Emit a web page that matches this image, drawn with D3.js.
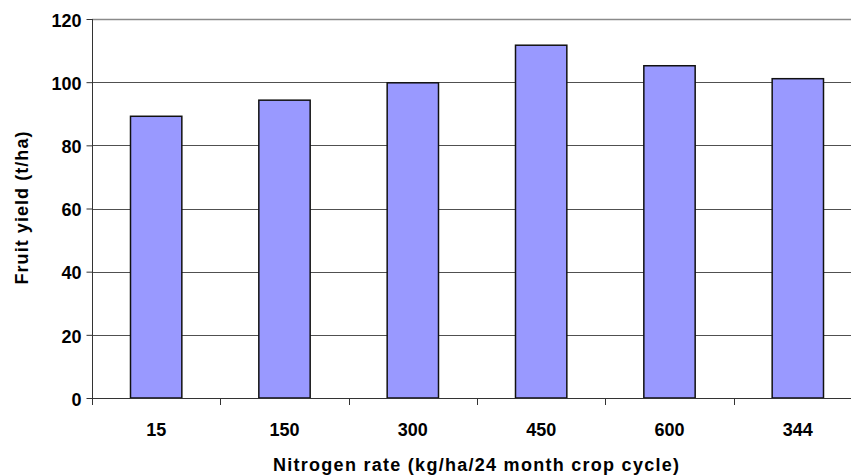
<!DOCTYPE html>
<html>
<head>
<meta charset="utf-8">
<script src="https://cdn.jsdelivr.net/npm/d3@7"></script>
<style>
  html, body { margin: 0; padding: 0; background: #fff; }
  svg { display: block; }
  text { font-family: "Liberation Sans", Arial, sans-serif; font-weight: bold; fill: #000; }
</style>
</head>
<body>
<svg id="chart" width="851" height="475"></svg>
<script>
const categories = ["15", "150", "300", "450", "600", "344"];
const yieldValues = [89.2, 94.3, 99.8, 111.7, 105.2, 101.1];
const yTicks = [0, 20, 40, 60, 80, 100, 120];
const xTitle = "Nitrogen rate (kg/ha/24 month crop cycle)";
const yTitle = "Fruit yield (t/ha)";

(function () {
const svg = d3.select("#chart");
const pLeft = 92, pRight = 862, pTop = 19, pBottom = 398;

const x = d3.scaleBand().domain(categories).range([pLeft, pRight]).paddingInner(0.6).paddingOuter(0.3);
const y = d3.scaleLinear().domain([0, 120]).range([pBottom, pTop]);

// gridlines
svg.append("g").selectAll("line").data(yTicks.filter(d => d > 0)).join("line")
  .attr("x1", pLeft).attr("x2", pRight)
  .attr("y1", d => Math.round(y(d)) + 0.5).attr("y2", d => Math.round(y(d)) + 0.5)
  .attr("stroke", d => d === 120 ? "#8a8a8a" : "#505050")
  .attr("stroke-width", d => d === 120 ? 1.5 : 1);

// bars
svg.append("g").selectAll("rect").data(categories).join("rect")
  .attr("x", d => x(d))
  .attr("y", (d, i) => y(yieldValues[i]))
  .attr("width", x.bandwidth())
  .attr("height", (d, i) => y(0) - y(yieldValues[i]))
  .attr("fill", "#9999FF")
  .attr("stroke", "#111")
  .attr("stroke-width", 1.5);

// y axis
const yAxis = d3.axisLeft(y).tickValues(yTicks).tickSize(6).tickPadding(5).tickFormat(d3.format("d"));
const gy = svg.append("g").attr("transform", `translate(${pLeft + 0.5},0)`).call(yAxis);
gy.select(".domain").remove();
gy.attr("font-family", null).attr("font-size", null);
gy.selectAll(".tick line").attr("stroke", "#333");
gy.selectAll(".tick text").style("font-size", "18px").attr("dy", "0.4em");
svg.append("line").attr("x1", pLeft + 0.5).attr("x2", pLeft + 0.5).attr("y1", pTop).attr("y2", pBottom + 6)
  .attr("stroke", "#333").attr("stroke-width", 1);

// x axis
svg.append("line").attr("x1", pLeft).attr("x2", pRight).attr("y1", pBottom + 0.5).attr("y2", pBottom + 0.5)
  .attr("stroke", "#333").attr("stroke-width", 1.2);
const xb = d3.range(categories.length + 1).map(i => pLeft + i * x.step());
svg.append("g").selectAll("line").data(xb).join("line")
  .attr("x1", d => Math.round(d) + 0.5).attr("x2", d => Math.round(d) + 0.5)
  .attr("y1", pBottom).attr("y2", pBottom + 7).attr("stroke", "#333");
svg.append("g").selectAll("text").data(categories).join("text")
  .attr("x", d => x(d) + x.bandwidth() / 2)
  .attr("y", 436)
  .attr("text-anchor", "middle")
  .style("font-size", "18px")
  .text(d => d);

// axis titles
svg.append("text")
  .attr("x", 476).attr("y", 471)
  .attr("text-anchor", "middle")
  .style("font-size", "18px")
  .attr("textLength", 406).attr("lengthAdjust", "spacing")
  .text(xTitle);

svg.append("text")
  .attr("transform", `translate(27.5,208) rotate(-90)`)
  .attr("text-anchor", "middle")
  .style("font-size", "18px")
  .attr("textLength", 153).attr("lengthAdjust", "spacing")
  .text(yTitle);
})();
</script>
</body>
</html>
